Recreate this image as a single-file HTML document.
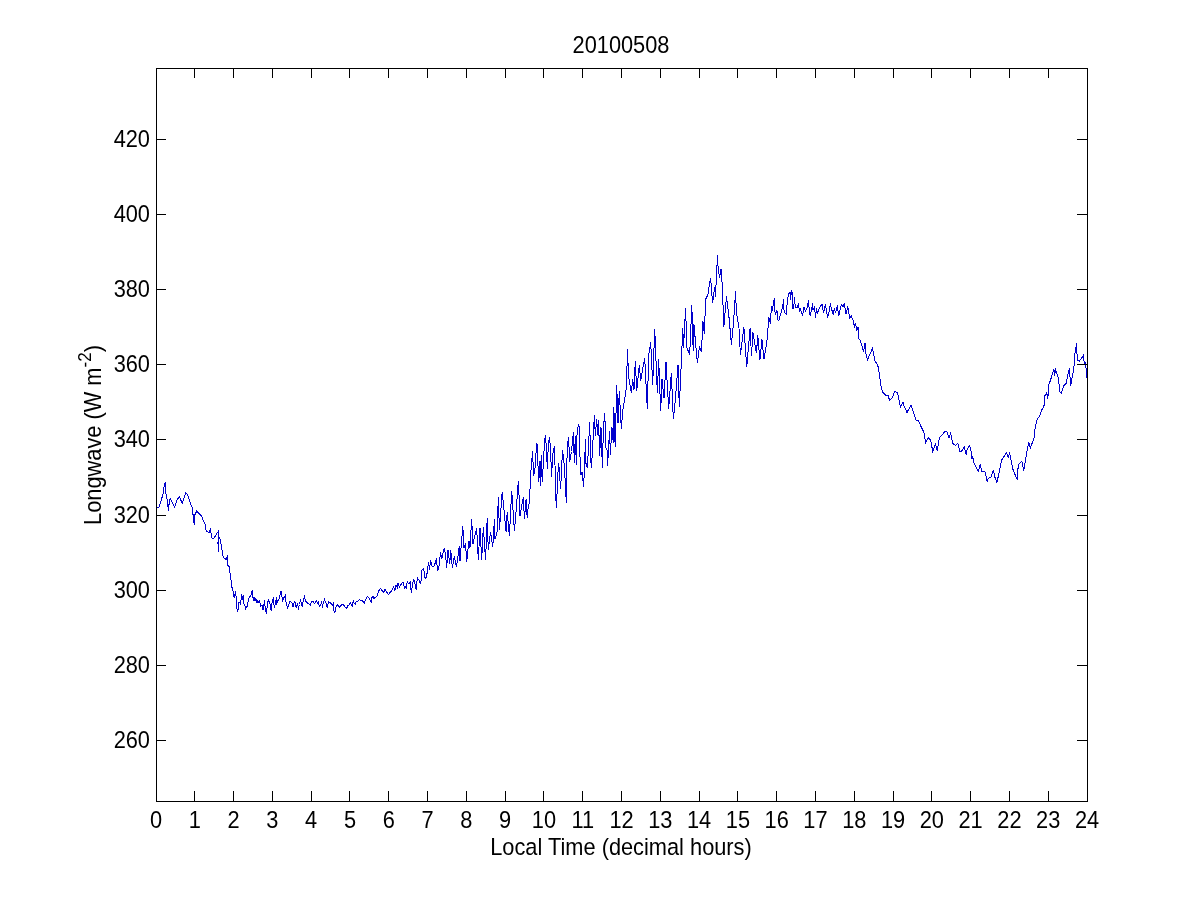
<!DOCTYPE html>
<html><head><meta charset="utf-8"><style>
html,body{margin:0;padding:0;background:#fff;width:1201px;height:900px;overflow:hidden}
svg{display:block}
text{font-family:"Liberation Sans",sans-serif;font-size:21.8px;fill:#000}
svg{will-change:transform}
</style></head><body>
<svg width="1201" height="900" viewBox="0 0 1201 900">
<rect width="1201" height="900" fill="#fff"/>
<path d="M156.00 509.00 L156.70 508.30 L159.00 507.30 L163.00 494.30 L164.00 487.00 L165.00 482.70 L165.70 483.00 L166.00 493.70 L167.70 503.00 L168.30 511.30 L169.30 501.70 L170.30 498.30 L174.70 507.30 L176.70 500.30 L179.30 496.70 L182.30 503.30 L185.70 492.70 L187.30 494.00 L191.30 506.30 L192.30 507.00 L193.30 517.70 L194.30 525.30 L194.70 515.00 L196.70 511.00 L201.30 515.70 L205.30 525.00 L206.30 531.70 L209.30 532.30 L210.30 529.70 L212.30 539.00 L214.30 537.70 L216.30 534.30 L218.30 531.30 L218.00 543.30 L218.30 552.30 L219.00 536.70 L220.30 539.30 L223.30 557.30 L226.70 560.00 L227.30 555.30 L227.70 565.70 L229.30 566.30 L230.00 573.00 L231.50 583.00 L232.00 587.50 L232.75 589.50 L233.75 596.00 L234.50 598.00 L235.25 591.50 L235.50 595.00 L236.50 596.50 L236.75 608.50 L237.50 611.00 L238.50 609.00 L238.75 602.50 L240.00 602.50 L240.50 605.00 L241.00 600.00 L241.50 594.50 L242.25 599.50 L243.25 595.50 L243.75 603.50 L244.75 604.50 L245.50 609.00 L246.50 606.50 L247.50 606.50 L248.25 600.50 L249.50 596.50 L250.75 596.50 L251.75 592.00 L252.50 590.50 L252.75 597.00 L253.50 598.50 L254.00 601.00 L255.00 597.50 L256.50 603.00 L256.75 599.50 L258.00 602.50 L259.50 600.50 L260.50 606.00 L262.00 605.00 L263.00 610.00 L264.50 600.50 L265.50 611.00 L266.50 613.00 L267.50 602.50 L268.50 600.50 L270.00 603.50 L271.25 611.00 L272.00 603.50 L272.75 599.50 L273.50 597.50 L274.25 608.00 L275.00 605.00 L276.50 597.50 L276.75 603.00 L277.75 601.00 L278.75 599.50 L279.50 598.50 L280.50 591.50 L281.50 592.00 L282.00 596.50 L282.50 602.00 L283.50 598.50 L285.25 595.50 L285.75 601.00 L287.50 608.00 L288.50 606.00 L290.00 601.00 L292.00 603.00 L293.00 607.00 L293.75 604.00 L294.75 601.50 L295.50 603.50 L296.25 608.00 L297.25 604.00 L298.50 608.00 L299.50 604.50 L300.50 600.50 L301.50 603.00 L302.25 607.00 L303.25 600.50 L304.50 596.50 L305.50 601.00 L307.50 603.00 L310.25 605.25 L311.75 601.50 L313.00 601.50 L314.50 603.50 L316.50 600.50 L317.50 603.00 L318.25 602.00 L319.50 606.50 L321.00 604.50 L321.50 602.50 L322.50 606.00 L324.50 599.50 L326.00 603.00 L327.25 607.50 L328.50 601.50 L331.00 603.50 L332.50 605.00 L333.50 602.50 L333.75 610.50 L335.00 612.50 L335.50 607.50 L337.50 605.00 L339.50 607.00 L341.50 605.00 L343.50 604.50 L344.50 606.50 L346.50 608.50 L348.25 605.00 L349.00 605.00 L350.25 603.00 L352.50 606.50 L353.25 600.50 L354.25 603.50 L355.50 604.50 L356.00 602.00 L358.00 601.00 L359.50 599.50 L360.75 601.00 L362.00 600.00 L364.25 603.50 L365.25 600.00 L367.50 596.50 L369.50 598.50 L371.25 602.50 L371.50 598.00 L373.00 596.50 L374.00 598.50 L377.50 595.50 L378.00 593.00 L379.00 590.50 L380.50 588.50 L382.00 590.50 L383.50 592.50 L385.00 589.50 L388.50 594.50 L391.00 591.50 L393.50 587.00 L395.00 590.50 L396.00 585.50 L397.50 588.00 L398.00 583.50 L399.50 587.00 L401.00 584.50 L403.00 582.00 L404.50 587.50 L405.00 586.30 L406.30 587.70 L407.30 581.70 L409.00 584.30 L410.30 581.00 L411.30 593.00 L413.00 581.70 L413.70 579.00 L416.30 589.70 L417.30 577.70 L419.00 580.30 L420.70 584.30 L422.00 569.70 L423.70 568.30 L425.00 578.30 L426.70 577.00 L427.30 570.30 L428.70 561.70 L429.30 570.30 L430.70 560.30 L432.30 567.00 L433.70 566.30 L435.30 563.00 L436.30 558.30 L437.70 571.00 L439.70 563.00 L440.30 551.70 L441.70 559.00 L443.00 553.00 L444.30 548.30 L445.70 555.70 L446.70 567.70 L448.00 549.70 L449.70 564.30 L450.70 549.70 L452.30 567.70 L454.30 556.30 L456.30 566.30 L456.70 565.60 L459.40 545.60 L460.00 561.00 L462.80 525.60 L463.90 547.80 L465.60 543.30 L466.70 562.20 L468.90 540.60 L470.00 547.80 L471.70 518.90 L472.80 544.40 L476.70 528.30 L478.30 560.00 L480.00 527.80 L481.70 560.00 L483.30 526.70 L485.60 560.00 L487.20 517.80 L488.30 550.00 L490.60 531.70 L492.80 547.20 L494.40 519.40 L495.00 538.90 L497.20 531.70 L498.30 496.70 L499.40 530.00 L502.20 491.70 L506.10 532.20 L507.20 512.20 L509.40 535.60 L511.70 490.60 L514.40 531.10 L516.70 503.30 L518.30 480.60 L520.00 515.60 L523.30 497.20 L524.40 518.90 L526.10 498.90 L527.20 517.80 L528.50 504.40 L529.40 503.50 L529.90 491.20 L530.80 472.30 L531.80 463.80 L532.30 451.50 L533.20 464.70 L533.70 474.10 L534.60 472.30 L535.60 460.90 L536.50 443.90 L537.50 444.80 L537.90 460.90 L538.40 481.70 L539.30 460.90 L540.30 485.50 L541.20 455.20 L542.20 481.70 L543.60 460.00 L544.50 441.10 L545.50 434.90 L546.40 448.60 L547.40 469.40 L548.30 443.90 L549.70 437.30 L550.70 454.30 L551.60 477.00 L552.60 455.20 L554.50 446.30 L555.90 498.70 L556.40 508.20 L557.80 475.10 L558.70 462.80 L560.60 489.30 L562.50 449.60 L564.40 466.60 L566.30 502.50 L567.20 446.70 L568.60 437.30 L569.60 461.90 L571.50 451.50 L573.40 431.60 L574.30 462.80 L575.30 436.30 L576.40 464.90 L576.90 435.60 L578.30 424.30 L579.30 426.20 L579.70 448.90 L580.70 475.30 L582.10 472.00 L583.60 487.00 L584.50 468.00 L585.40 439.40 L585.90 463.10 L587.30 467.80 L588.20 452.70 L589.70 422.40 L590.60 459.30 L591.50 467.80 L593.00 440.40 L594.40 414.80 L595.30 435.60 L596.70 418.60 L597.70 434.70 L598.60 420.50 L599.60 456.40 L601.00 427.10 L602.40 467.80 L603.40 428.10 L604.80 413.00 L605.70 447.90 L607.10 449.80 L607.60 465.90 L609.50 430.90 L610.40 454.50 L611.90 427.10 L613.30 443.20 L613.80 407.30 L615.20 447.00 L616.70 384.70 L618.00 423.30 L619.30 391.30 L621.30 428.70 L622.70 411.30 L624.70 399.30 L626.70 384.70 L627.30 349.30 L628.70 376.70 L631.30 392.70 L632.70 379.30 L634.00 390.00 L635.30 360.70 L636.70 391.30 L639.30 364.70 L640.70 380.70 L642.70 368.70 L644.70 358.00 L647.30 408.70 L648.70 355.30 L650.70 342.00 L652.70 384.70 L654.70 328.70 L657.30 392.70 L658.70 359.30 L660.70 411.30 L662.00 379.30 L664.00 398.00 L666.00 362.00 L668.70 408.70 L671.30 372.70 L673.30 419.30 L675.30 400.70 L678.00 364.70 L679.30 407.30 L682.80 328.30 L683.50 347.80 L685.60 308.20 L686.90 347.80 L689.70 354.70 L691.80 305.40 L693.20 350.60 L693.90 324.20 L697.40 363.10 L699.40 346.40 L701.50 351.90 L702.90 320.70 L704.30 333.90 L705.70 299.20 L707.80 295.00 L710.60 277.60 L712.60 303.30 L714.70 286.70 L715.40 297.10 L717.50 255.40 L718.20 270.00 L719.60 277.60 L721.00 268.60 L722.40 286.70 L723.80 327.00 L726.50 296.40 L729.30 320.00 L731.40 345.00 L733.50 322.80 L735.60 290.80 L736.30 311.70 L739.00 328.30 L740.40 354.70 L743.90 327.00 L746.70 367.20 L750.10 328.30 L751.50 356.10 L752.90 332.50 L756.40 353.30 L757.80 335.30 L759.90 360.30 L761.90 339.40 L764.00 358.90 L766.80 342.20 L768.90 317.20 L770.50 324.00 L770.75 316.00 L771.50 306.50 L772.50 311.00 L773.50 301.50 L774.50 298.50 L774.75 311.00 L775.50 315.00 L776.50 311.00 L777.50 312.00 L778.00 320.00 L779.00 320.00 L781.50 311.00 L783.00 304.50 L783.50 299.50 L783.75 309.50 L785.00 313.00 L786.50 314.50 L786.75 309.00 L787.50 298.50 L788.75 294.00 L790.00 292.00 L790.50 299.50 L791.50 290.50 L792.50 293.50 L792.75 308.00 L793.75 308.00 L794.50 297.50 L795.25 307.50 L797.00 307.50 L798.50 304.50 L799.50 312.00 L800.00 308.00 L802.50 316.00 L804.00 307.50 L805.50 311.00 L807.00 308.00 L808.50 300.50 L809.50 314.00 L810.50 315.00 L811.50 310.00 L812.50 303.50 L813.00 310.00 L814.50 306.50 L815.50 317.50 L816.50 308.50 L817.50 314.00 L819.50 307.50 L822.00 304.00 L823.50 312.50 L825.50 304.50 L827.50 317.50 L828.00 315.60 L829.40 310.00 L830.50 303.30 L831.10 307.80 L833.30 314.40 L834.40 308.30 L835.50 313.30 L837.40 305.30 L838.60 316.40 L839.70 311.70 L841.30 304.40 L843.00 307.20 L844.40 303.30 L845.80 313.30 L846.60 313.90 L847.40 306.40 L848.80 311.10 L849.40 318.30 L851.30 316.10 L853.60 321.10 L854.40 328.30 L855.20 322.80 L856.90 330.00 L858.30 326.70 L858.60 338.30 L860.20 340.00 L862.00 346.00 L863.50 351.50 L865.00 343.00 L865.50 351.50 L867.50 360.00 L870.00 354.00 L872.50 348.50 L875.00 361.00 L877.50 365.00 L878.50 368.00 L881.50 389.00 L883.00 392.50 L885.50 395.00 L888.00 395.50 L889.50 400.00 L892.00 398.00 L895.00 391.00 L897.50 393.00 L899.50 402.00 L900.50 407.00 L903.00 402.00 L904.00 406.00 L907.00 412.50 L911.00 405.00 L914.00 414.00 L916.10 420.00 L918.30 420.00 L920.60 425.60 L923.90 432.20 L925.60 442.80 L928.30 437.80 L930.60 440.00 L932.80 451.70 L935.60 443.90 L937.20 451.10 L939.40 437.80 L941.70 435.60 L945.00 431.10 L947.20 432.20 L948.90 437.80 L950.60 433.30 L952.80 443.30 L955.60 445.60 L957.80 443.30 L960.00 452.20 L961.70 451.10 L964.40 446.70 L966.20 455.00 L967.30 448.80 L969.70 445.70 L970.80 449.50 L972.00 458.90 L972.80 456.50 L973.60 462.00 L978.20 471.70 L980.20 464.70 L982.10 472.10 L984.80 471.30 L987.20 481.40 L988.30 478.30 L991.00 477.20 L993.40 469.80 L994.50 476.00 L996.90 483.00 L998.80 473.70 L1001.50 460.40 L1004.70 455.40 L1006.60 452.70 L1008.20 457.30 L1009.70 453.40 L1012.80 469.00 L1017.10 479.50 L1018.30 465.10 L1021.80 461.20 L1023.70 470.90 L1026.80 451.90 L1028.80 441.80 L1030.30 448.00 L1034.20 437.90 L1035.00 428.90 L1037.20 418.90 L1039.40 416.70 L1041.70 410.00 L1043.90 406.70 L1045.00 395.60 L1046.70 392.80 L1047.80 398.90 L1048.90 384.40 L1050.60 380.00 L1053.90 368.90 L1054.40 375.60 L1055.60 370.00 L1058.30 377.80 L1060.00 392.20 L1061.10 393.30 L1063.90 385.60 L1066.10 383.30 L1069.40 367.80 L1070.60 385.60 L1073.90 368.90 L1074.40 356.70 L1076.70 343.30 L1077.20 360.00 L1079.40 361.10 L1081.10 358.90 L1083.30 355.60 L1084.40 363.30 L1085.60 362.20 L1086.70 377.80" fill="none" stroke="#0000cc" stroke-width="1" shape-rendering="crispEdges"/>
<rect x="156.5" y="68.5" width="931" height="733" fill="none" stroke="#000" stroke-width="1" shape-rendering="crispEdges"/>
<path d="M194.5 801 V791 M194.5 68 V78 M233.5 801 V791 M233.5 68 V78 M272.5 801 V791 M272.5 68 V78 M311.5 801 V791 M311.5 68 V78 M349.5 801 V791 M349.5 68 V78 M388.5 801 V791 M388.5 68 V78 M427.5 801 V791 M427.5 68 V78 M466.5 801 V791 M466.5 68 V78 M505.5 801 V791 M505.5 68 V78 M543.5 801 V791 M543.5 68 V78 M582.5 801 V791 M582.5 68 V78 M621.5 801 V791 M621.5 68 V78 M660.5 801 V791 M660.5 68 V78 M699.5 801 V791 M699.5 68 V78 M737.5 801 V791 M737.5 68 V78 M776.5 801 V791 M776.5 68 V78 M815.5 801 V791 M815.5 68 V78 M854.5 801 V791 M854.5 68 V78 M893.5 801 V791 M893.5 68 V78 M931.5 801 V791 M931.5 68 V78 M970.5 801 V791 M970.5 68 V78 M1009.5 801 V791 M1009.5 68 V78 M1048.5 801 V791 M1048.5 68 V78 M156 740.5 H166 M1087 740.5 H1077 M156 665.5 H166 M1087 665.5 H1077 M156 590.5 H166 M1087 590.5 H1077 M156 515.5 H166 M1087 515.5 H1077 M156 439.5 H166 M1087 439.5 H1077 M156 364.5 H166 M1087 364.5 H1077 M156 289.5 H166 M1087 289.5 H1077 M156 214.5 H166 M1087 214.5 H1077 M156 139.5 H166 M1087 139.5 H1077" stroke="#000" stroke-width="1" fill="none" shape-rendering="crispEdges"/>
<text transform="translate(156.00,827.5) scale(1,1.07)" text-anchor="middle">0</text><text transform="translate(194.79,827.5) scale(1,1.07)" text-anchor="middle">1</text><text transform="translate(233.58,827.5) scale(1,1.07)" text-anchor="middle">2</text><text transform="translate(272.38,827.5) scale(1,1.07)" text-anchor="middle">3</text><text transform="translate(311.17,827.5) scale(1,1.07)" text-anchor="middle">4</text><text transform="translate(349.96,827.5) scale(1,1.07)" text-anchor="middle">5</text><text transform="translate(388.75,827.5) scale(1,1.07)" text-anchor="middle">6</text><text transform="translate(427.54,827.5) scale(1,1.07)" text-anchor="middle">7</text><text transform="translate(466.33,827.5) scale(1,1.07)" text-anchor="middle">8</text><text transform="translate(505.12,827.5) scale(1,1.07)" text-anchor="middle">9</text><text transform="translate(543.92,827.5) scale(1,1.07)" text-anchor="middle">10</text><text transform="translate(582.71,827.5) scale(1,1.07)" text-anchor="middle">11</text><text transform="translate(621.50,827.5) scale(1,1.07)" text-anchor="middle">12</text><text transform="translate(660.29,827.5) scale(1,1.07)" text-anchor="middle">13</text><text transform="translate(699.08,827.5) scale(1,1.07)" text-anchor="middle">14</text><text transform="translate(737.88,827.5) scale(1,1.07)" text-anchor="middle">15</text><text transform="translate(776.67,827.5) scale(1,1.07)" text-anchor="middle">16</text><text transform="translate(815.46,827.5) scale(1,1.07)" text-anchor="middle">17</text><text transform="translate(854.25,827.5) scale(1,1.07)" text-anchor="middle">18</text><text transform="translate(893.04,827.5) scale(1,1.07)" text-anchor="middle">19</text><text transform="translate(931.83,827.5) scale(1,1.07)" text-anchor="middle">20</text><text transform="translate(970.62,827.5) scale(1,1.07)" text-anchor="middle">21</text><text transform="translate(1009.42,827.5) scale(1,1.07)" text-anchor="middle">22</text><text transform="translate(1048.21,827.5) scale(1,1.07)" text-anchor="middle">23</text><text transform="translate(1087.00,827.5) scale(1,1.07)" text-anchor="middle">24</text>
<text transform="translate(150,747.5) scale(1,1.07)" text-anchor="end">260</text><text transform="translate(150,672.5) scale(1,1.07)" text-anchor="end">280</text><text transform="translate(150,597.5) scale(1,1.07)" text-anchor="end">300</text><text transform="translate(150,522.5) scale(1,1.07)" text-anchor="end">320</text><text transform="translate(150,446.5) scale(1,1.07)" text-anchor="end">340</text><text transform="translate(150,371.5) scale(1,1.07)" text-anchor="end">360</text><text transform="translate(150,296.5) scale(1,1.07)" text-anchor="end">380</text><text transform="translate(150,221.5) scale(1,1.07)" text-anchor="end">400</text><text transform="translate(150,146.5) scale(1,1.07)" text-anchor="end">420</text>
<text transform="translate(621,52.5) scale(1,1.07)" text-anchor="middle">20100508</text>
<text transform="translate(621,854.5) scale(1,1.07)" text-anchor="middle">Local Time (decimal hours)</text>
<text transform="translate(101,435) rotate(-90) scale(1,1.07)" text-anchor="middle">Longwave (W m<tspan dy="-9.5" font-size="17.0px">-2</tspan><tspan dy="9.5">)</tspan></text>
</svg>
</body></html>
